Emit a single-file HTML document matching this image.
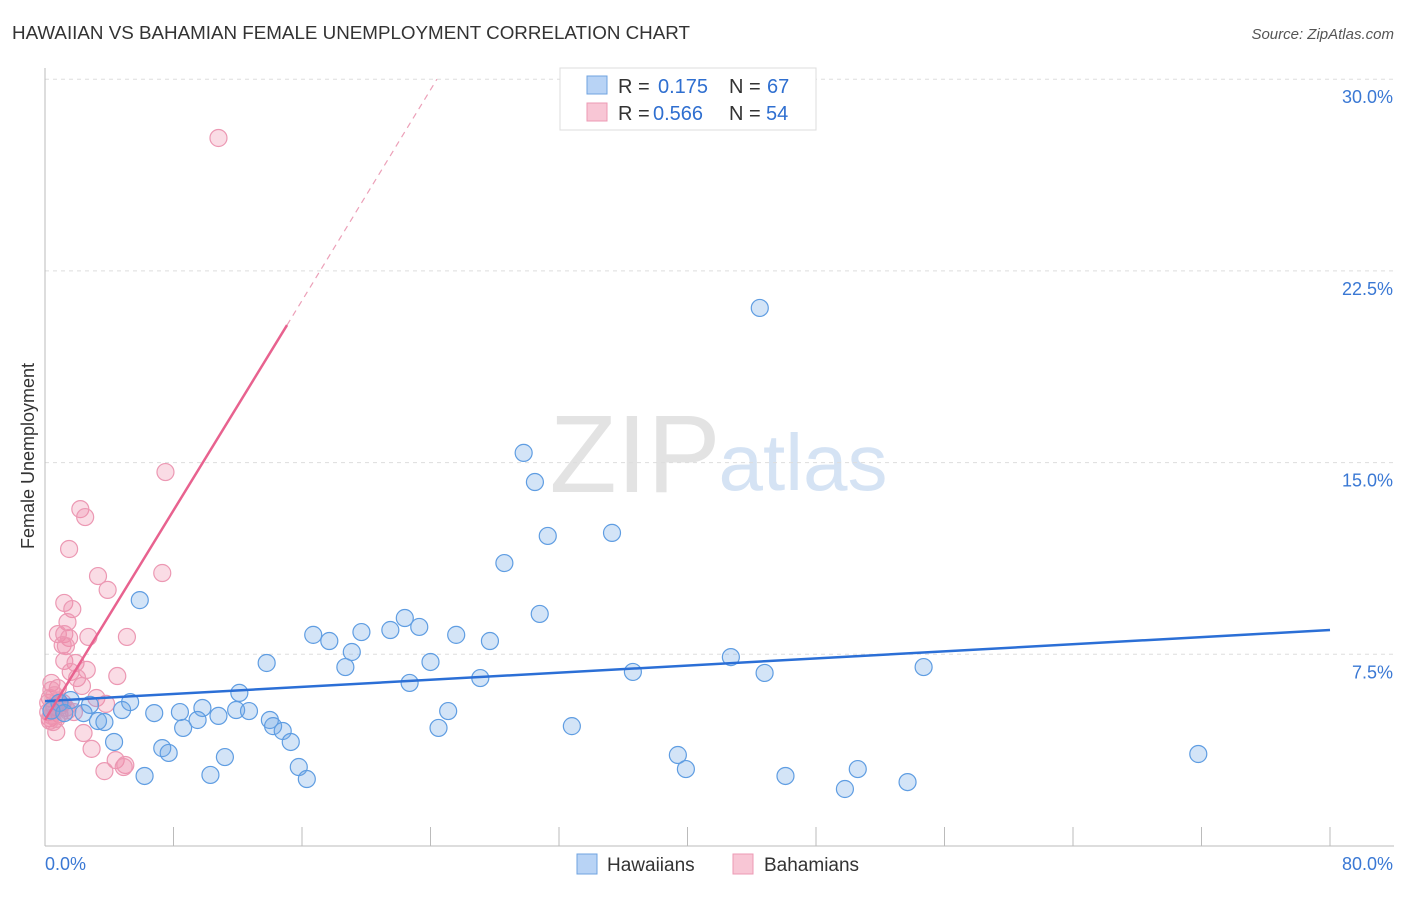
<!DOCTYPE html>
<html><head><meta charset="utf-8">
<style>
body{margin:0;background:#fff;font-family:"Liberation Sans",sans-serif;}
svg text{font-family:"Liberation Sans",sans-serif;}
</style></head>
<body>
<svg width="1406" height="892" viewBox="0 0 1406 892" xmlns="http://www.w3.org/2000/svg">
<text x="12" y="39" font-size="18.8" fill="#333">HAWAIIAN VS BAHAMIAN FEMALE UNEMPLOYMENT CORRELATION CHART</text>
<text x="1394" y="39" font-size="15" fill="#555" font-style="italic" text-anchor="end">Source: ZipAtlas.com</text>
<g>
<text x="635" y="492" font-size="110" fill="#e3e3e3" font-family="Liberation Serif" text-anchor="middle">ZIP</text>
<text x="803" y="490" font-size="80" fill="#d5e3f4" text-anchor="middle">atlas</text>
</g>
<g id="grid"></g>
<g id="axes"></g>
<g id="pts"></g>
<g id="trend"></g>
<text transform="translate(34,456) rotate(-90)" font-size="18" fill="#333" text-anchor="middle">Female Unemployment</text>
<g>
<rect x="560" y="68" width="256" height="62" fill="#fff" stroke="#ddd"/>
<rect x="587" y="76" width="20" height="18" fill="#b8d3f5" stroke="#6fa3e0"/>
<rect x="587" y="103" width="20" height="18" fill="#f8c6d5" stroke="#ec9ab4"/>
<text x="618" y="93" font-size="20" fill="#333">R =</text>
<text x="658" y="93" font-size="20" fill="#2f6fd0">0.175</text>
<text x="729" y="93" font-size="20" fill="#333">N =</text>
<text x="767" y="93" font-size="20" fill="#2f6fd0">67</text>
<text x="618" y="120" font-size="20" fill="#333">R =</text>
<text x="653" y="120" font-size="20" fill="#2f6fd0">0.566</text>
<text x="729" y="120" font-size="20" fill="#333">N =</text>
<text x="766" y="120" font-size="20" fill="#2f6fd0">54</text>
</g>
<g>
<rect x="577" y="854" width="20" height="20" fill="#b8d3f5" stroke="#6fa3e0"/>
<text x="607" y="871" font-size="19" fill="#333">Hawaiians</text>
<rect x="733" y="854" width="20" height="20" fill="#f8c6d5" stroke="#ec9ab4"/>
<text x="764" y="871" font-size="19" fill="#333">Bahamians</text>
</g>
</svg>
<script>
const yTicks=[7.5,15,22.5,30];
const yTickLabels=["7.5%","15.0%","22.5%","30.0%"];
const xTicks=[0,8,16,24,32,40,48,56,64,72,80];
const hawX=[44.5,29.8,30.5,31.3,35.3,28.6,30.8,5.9,22.4,23.3,21.5,19.7,16.7,17.7,25.6,27.7,19.1,18.7,13.8,24.0,42.7,44.8,54.7,36.6,22.7,27.1,12.1,5.3,4.8,1.6,2.8,2.4,6.8,8.4,9.8,9.5,10.8,11.9,12.7,14.0,14.2,14.8,15.3,8.6,3.3,3.7,25.1,24.5,32.8,4.3,7.3,7.7,11.2,39.4,71.8,15.8,39.9,50.6,6.2,10.3,16.3,46.1,53.7,49.8,0.9,0.4,1.2];
const hawY=[21.05,15.38,14.24,12.13,12.25,11.07,9.08,9.62,8.92,8.57,8.45,8.37,8.26,8.02,8.26,8.02,7.59,7.0,7.16,7.2,7.39,6.77,7.0,6.81,6.38,6.57,5.99,5.63,5.32,5.71,5.52,5.2,5.2,5.24,5.4,4.93,5.09,5.32,5.28,4.93,4.69,4.5,4.07,4.62,4.89,4.85,5.28,4.62,4.69,4.07,3.83,3.64,3.48,3.56,3.6,3.09,3.01,3.01,2.74,2.78,2.62,2.74,2.5,2.23,5.6,5.3,5.2];
const bahX=[10.8,7.5,2.2,2.5,1.5,3.3,7.3,3.9,1.2,1.7,1.4,0.8,1.2,2.7,5.1,1.5,1.1,1.3,1.2,1.9,2.6,4.5,1.6,2.0,0.4,0.8,0.4,2.3,3.2,3.8,1.1,0.3,0.6,0.2,0.9,0.3,1.8,0.7,2.4,2.9,4.4,5.0,3.7,4.9,1.3,0.5,0.7,0.2,0.6,1.0,0.4,1.4,0.8,0.3];
const bahY=[27.7,14.63,13.18,12.87,11.62,10.56,10.68,10.02,9.51,9.27,8.76,8.29,8.29,8.18,8.18,8.14,7.86,7.82,7.24,7.16,6.89,6.65,6.81,6.57,6.38,6.18,6.1,6.26,5.79,5.56,5.6,5.79,5.44,5.24,5.16,5.0,5.24,4.46,4.42,3.8,3.36,3.17,2.93,3.09,5.4,4.85,4.97,5.6,5.9,5.5,5.1,5.3,5.7,4.9];
const hawTrend=[0,5.67,80,8.45];
const bahTrend=[0,4.93,15.07,20.38,24.4,30];
const NS="http://www.w3.org/2000/svg";
const X=v=>45+v/80*1285, Y=v=>846-v/7.5*191.7;
function mk(tag,attrs,parent){const e=document.createElementNS(NS,tag);for(const k in attrs)e.setAttribute(k,attrs[k]);parent.appendChild(e);return e;}
const grid=document.getElementById('grid'),axes=document.getElementById('axes'),pts=document.getElementById('pts'),trend=document.getElementById('trend');
yTicks.forEach((t,i)=>{
 const l=mk('line',{x1:45,x2:1394,y1:Y(t),y2:Y(t),stroke:'#ddd','stroke-dasharray':'4,4'},grid);
 
 
 const tx=mk('text',{x:1393,y:Y(t)+24,'font-size':18,fill:'#3a78d4','text-anchor':'end'},axes);
 tx.textContent=yTickLabels[i];
 
 
});
const ax=mk('line',{x1:45,x2:45,y1:68,y2:846,stroke:'#bbb'},axes);


const bx=mk('line',{x1:45,x2:1394,y1:846,y2:846,stroke:'#bbb'},axes);


xTicks.forEach(t=>{const l=mk('line',{x1:X(t),x2:X(t),y1:827,y2:846,stroke:'#bbb'},axes);
 
 });
const x0=mk('text',{x:45,y:870,'font-size':18,fill:'#3a78d4'},axes);x0.textContent='0.0%';


const x1=mk('text',{x:1393,y:870,'font-size':18,fill:'#3a78d4','text-anchor':'end'},axes);x1.textContent='80.0%';


bahX.forEach((v,i)=>{const c=mk('circle',{cx:X(v),cy:Y(bahY[i]),r:8.5,fill:'rgba(240,140,170,0.3)',stroke:'#ec98b3','stroke-width':1.2},pts);
 
 });
hawX.forEach((v,i)=>{const c=mk('circle',{cx:X(v),cy:Y(hawY[i]),r:8.5,fill:'rgba(110,165,230,0.3)',stroke:'#5f9de2','stroke-width':1.2},pts);
 
 });
const hl=mk('line',{x1:X(hawTrend[0]),y1:Y(hawTrend[1]),x2:X(hawTrend[2]),y2:Y(hawTrend[3]),stroke:'#2b6fd6','stroke-width':2.5},trend);


const bl=mk('line',{x1:X(bahTrend[0]),y1:Y(bahTrend[1]),x2:X(bahTrend[2]),y2:Y(bahTrend[3]),stroke:'#e8628f','stroke-width':2.5},trend);


const bd=mk('line',{x1:X(bahTrend[2]),y1:Y(bahTrend[3]),x2:X(bahTrend[4]),y2:Y(bahTrend[5]),stroke:'#eca0b8','stroke-width':1.2,'stroke-dasharray':'6,5'},trend);


</script>
</body></html>
